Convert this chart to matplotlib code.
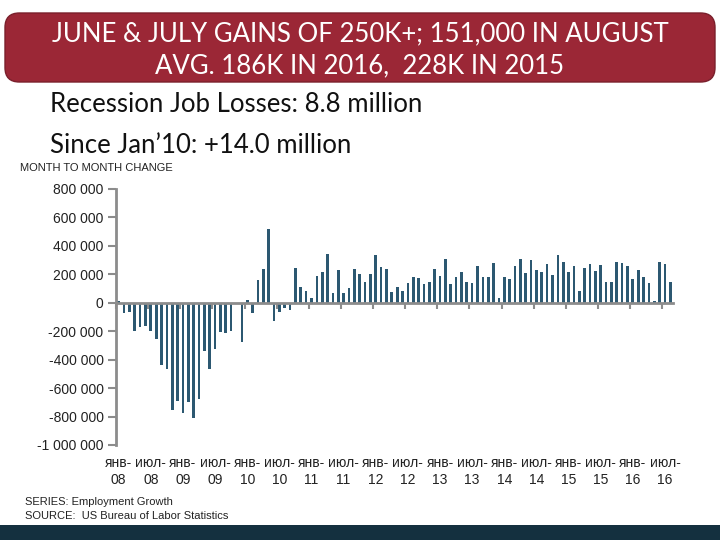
import matplotlib.pyplot as plt
import numpy as np
from matplotlib.patches import FancyBboxPatch, Rectangle
from matplotlib.ticker import FuncFormatter

# Monthly change in nonfarm payrolls, thousands
jobs_2008 = [15, -73, -66, -200, -171, -160, -200, -258, -440, -464, -757, -691]
jobs_2009 = [-775, -698, -810, -680, -342, -464, -328, -206, -211, -199, -10, -276]
jobs_2010 = [23, -70, 157, 234, 520, -129, -66, -35, -52, 248, 112, 80]
jobs_2011 = [37, 187, 218, 342, 66, 227, 68, 101, 241, 204, 145, 199]
jobs_2012 = [337, 251, 234, 75, 108, 80, 136, 183, 176, 129, 145, 234]
jobs_2013 = [187, 305, 129, 183, 213, 145, 136, 262, 180, 183, 283, 36]
jobs_2014 = [178, 164, 262, 305, 206, 298, 230, 216, 276, 192, 333, 284]
jobs_2015 = [216, 258, 82, 248, 274, 220, 269, 145, 145, 290, 281, 262]
jobs_2016 = [164, 230, 178, 136, 16, 284, 274, 145]

years = ['08', '09', '10', '11', '12', '13', '14', '15', '16']
half_year_names = ['янв-', 'июл-']

title_lines = ['JUNE & JULY GAINS OF 250K+; 151,000 IN AUGUST',
               'AVG. 186K IN 2016,  228K IN 2015']
notes = ['Recession Job Losses: 8.8 million', 'Since Jan\u201910: +14.0 million']

changes = np.array(jobs_2008 + jobs_2009 + jobs_2010 + jobs_2011 + jobs_2012
                   + jobs_2013 + jobs_2014 + jobs_2015 + jobs_2016) * 1000
n = len(changes)
x = np.arange(n)

axis_grey = '#8c8c8c'
bar_colour = '#2c5871'

fig = plt.figure(figsize=(7.2, 5.4), dpi=100)
ax = fig.add_axes([116 / 720, 1 - 445 / 540, (673 - 116) / 720, (445 - 189) / 540])

ax.bar(x, changes, width=0.5, color=bar_colour)
ax.set_xlim(-0.5, n - 0.5)
ax.set_ylim(-1_000_000, 800_000)
ax.set_yticks(np.arange(-1_000_000, 800_001, 200_000))
ax.yaxis.set_major_formatter(FuncFormatter(lambda v, p: f'{v:,.0f}'.replace(',', ' ')))

for side in ['top', 'right']:
    ax.spines[side].set_visible(False)
ax.spines['left'].set_color(axis_grey)
ax.spines['left'].set_linewidth(2)
ax.spines['bottom'].set_position(('data', 0))
ax.spines['bottom'].set_color(axis_grey)
ax.spines['bottom'].set_linewidth(2)

# tick marks between categories every six months, on the zero line
ax.set_xticks(np.arange(-0.5, n - 1, 6))
ax.tick_params(axis='x', direction='out', length=4, width=1.5, color=axis_grey,
               labelbottom=False)
ax.tick_params(axis='y', direction='out', length=6, width=1.5, color=axis_grey,
               labelsize=10, pad=3, labelcolor='#222222')
for lab in ax.get_yticklabels():
    lab.set_family('Liberation Sans')

# category labels along the bottom
labels = []
for i in range(0, n, 6):
    labels.append(half_year_names[(i // 6) % 2] + '\n' + years[i // 12])
sec = ax.secondary_xaxis('bottom')
sec.set_xticks(x[::6], labels=labels)
sec.tick_params(length=0, pad=8, labelsize=10, labelcolor='#222222')
sec.spines['bottom'].set_visible(False)
for lab in sec.get_xticklabels():
    lab.set_family('Liberation Sans')
    lab.set_linespacing(1.25)

# header box
box = FancyBboxPatch((5 / 720, 1 - 82 / 540), 710 / 720, 69 / 540,
                     boxstyle='round,pad=0,rounding_size=0.02',
                     mutation_aspect=720 / 540,
                     transform=fig.transFigure, fc='#9b2736', ec='#7a1f2b', lw=1)
fig.add_artist(box)
fig.text(0.5, 1 - 34 / 540, title_lines[0], ha='center', va='center',
         color='white', fontsize=18.5, family='Lato')
fig.text(0.5, 1 - 66 / 540, title_lines[1], ha='center', va='center',
         color='white', fontsize=18.5, family='Lato')

fig.text(50 / 720, 1 - 104 / 540, notes[0], ha='left', va='center',
         fontsize=18.5, family='Lato', color='#111111')
fig.text(50 / 720, 1 - 145 / 540, notes[1], ha='left', va='center',
         fontsize=18.5, family='Lato', color='#111111')

fig.text(20 / 720, 1 - 168 / 540, 'MONTH TO MONTH CHANGE', ha='left', va='center',
         fontsize=8, family='Liberation Sans', color='#222222')
fig.text(25 / 720, 1 - 502 / 540, 'SERIES: Employment Growth', ha='left', va='center',
         fontsize=8, family='Liberation Sans', color='#222222')
fig.text(25 / 720, 1 - 516 / 540, 'SOURCE:  US Bureau of Labor Statistics', ha='left',
         va='center', fontsize=8, family='Liberation Sans', color='#222222')

# dark strip at the bottom of the slide
fig.add_artist(Rectangle((0, 0), 1, 15 / 540, transform=fig.transFigure,
                         fc='#14303f', ec='none'))

fig.savefig('out.png', dpi=100)
